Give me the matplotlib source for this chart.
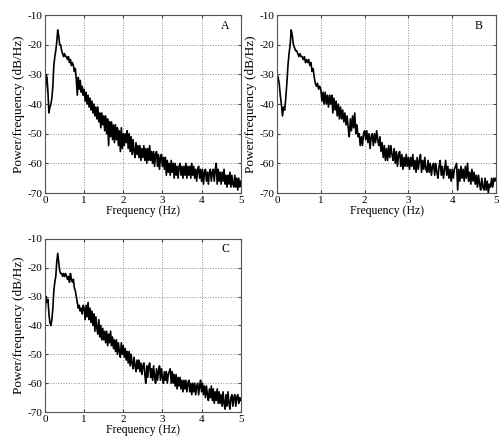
import numpy as np
import matplotlib
matplotlib.use("Agg")
import matplotlib.pyplot as plt

plt.rcParams['font.family'] = ['Liberation Serif', 'DejaVu Serif']
plt.rcParams['axes.unicode_minus'] = False

# frequency axis (Hz), 0.025 Hz spacing
freq = np.linspace(0, 5, 201)

# power spectral density estimates (dB/Hz)
psd_a = [
    -38, -30, -31, -36, -43, -41, -40, -38, -34, -27,
    -24, -22, -19, -15, -17, -20, -20, -22, -23, -24,
    -23, -24, -24, -25, -24, -26, -25, -27, -26, -27,
    -29, -28, -32, -37, -31, -35, -32, -36, -34, -37,
    -35, -39, -36, -40, -37, -41, -38, -42, -39, -43,
    -40, -44, -41, -45, -41, -46, -43, -48, -43, -47,
    -44, -49, -44, -50, -45, -54, -46, -51, -46, -52,
    -47, -53, -47, -52, -48, -54, -49, -56, -48, -55,
    -50, -54, -50, -53, -49, -55, -50, -56, -51, -57,
    -52, -56, -58, -53, -57, -54, -58, -54, -59, -55,
    -58, -54, -59, -55, -60, -55, -59, -54, -59, -56,
    -60, -56, -61, -57, -56, -61, -57, -62, -58, -57,
    -61, -58, -62, -58, -64, -59, -63, -60, -64, -59,
    -63, -60, -65, -60, -64, -61, -65, -61, -60, -64,
    -61, -65, -61, -64, -60, -65, -61, -64, -61, -65,
    -60, -64, -61, -65, -62, -66, -62, -61, -65, -62,
    -66, -62, -67, -63, -62, -66, -63, -67, -63, -62,
    -66, -63, -62, -66, -62, -60, -67, -62, -66, -63,
    -67, -63, -66, -62, -67, -64, -68, -64, -67, -63,
    -68, -64, -67, -68, -64, -68, -65, -69, -65, -68,
    -66,
]

psd_b = [
    -30, -31, -33, -37, -40, -44, -41, -42, -38, -33,
    -27, -23, -20, -15, -17, -20, -21, -22, -22, -23,
    -24, -23, -24, -24, -25, -24, -26, -25, -26, -25,
    -27, -26, -29, -28, -31, -33, -34, -33, -35, -34,
    -35, -39, -36, -40, -36, -40, -37, -41, -37, -40,
    -37, -43, -38, -42, -39, -44, -40, -45, -41, -45,
    -42, -46, -43, -47, -44, -48, -51, -45, -49, -44,
    -48, -43, -50, -47, -51, -50, -54, -51, -54, -50,
    -49, -52, -49, -53, -50, -55, -51, -50, -54, -50,
    -53, -49, -52, -54, -51, -56, -53, -58, -54, -59,
    -55, -59, -54, -58, -54, -57, -59, -55, -60, -56,
    -61, -57, -56, -61, -57, -62, -58, -61, -57, -61,
    -58, -62, -58, -61, -57, -62, -59, -63, -58, -62,
    -59, -57, -63, -59, -62, -58, -62, -63, -59, -63,
    -60, -64, -61, -60, -64, -60, -63, -65, -61, -59,
    -64, -61, -65, -62, -59, -64, -61, -65, -62, -66,
    -62, -65, -62, -61, -60, -69, -62, -66, -61, -65,
    -62, -66, -61, -65, -60, -66, -63, -67, -62, -66,
    -63, -67, -64, -68, -64, -67, -69, -65, -68, -69,
    -65, -69, -66, -70, -67, -68, -65, -68, -65, -66,
    -65,
]

psd_c = [
    -37, -30, -32, -31, -36, -39, -40, -38, -34, -28,
    -25, -23, -18, -15, -18, -21, -22, -22, -23, -22,
    -23, -22, -23, -24, -23, -25, -22, -24, -25, -24,
    -27, -28, -30, -32, -34, -33, -35, -34, -36, -33,
    -34, -38, -33, -37, -32, -38, -34, -39, -35, -40,
    -36, -42, -37, -41, -43, -38, -44, -40, -45, -41,
    -45, -42, -46, -42, -47, -43, -46, -42, -47, -44,
    -48, -45, -49, -45, -50, -46, -49, -51, -46, -50,
    -47, -51, -48, -52, -49, -53, -49, -54, -50, -53,
    -55, -51, -54, -56, -52, -55, -52, -56, -53, -57,
    -54, -53, -57, -60, -54, -58, -54, -53, -58, -55,
    -59, -54, -58, -60, -55, -59, -56, -54, -59, -55,
    -58, -60, -56, -59, -56, -60, -57, -56, -55, -60,
    -56, -60, -57, -61, -57, -62, -58, -61, -58, -62,
    -59, -63, -59, -62, -59, -63, -60, -59, -63, -60,
    -64, -60, -63, -60, -64, -61, -60, -64, -61, -59,
    -63, -60, -64, -61, -65, -61, -64, -66, -62, -65,
    -61, -66, -62, -67, -63, -66, -62, -67, -63, -67,
    -64, -68, -63, -67, -69, -64, -68, -63, -67, -69,
    -65, -64, -68, -65, -64, -68, -65, -64, -67, -65,
    -66,
]

panels = [
    ("A", psd_a, [0.0895, 0.5573, 0.389, 0.408]),
    ("B", psd_b, [0.5507, 0.5573, 0.4354, 0.408]),
    ("C", psd_c, [0.0895, 0.0550, 0.389, 0.397]),
]

fig = plt.figure(figsize=(5.03, 4.36), dpi=100)

for letter, psd, rect in panels:
    ax = fig.add_axes(rect)
    ax.plot(freq, psd, color="black", lw=1.2)
    ax.set_xlim(0, 5)
    ax.set_ylim(-70, -10)
    ax.set_xticks(range(0, 6))
    ax.set_yticks(range(-70, 0, 10))
    ax.grid(True, linestyle=":", color="#888888", lw=0.7)
    ax.tick_params(direction="in", length=2.5, labelsize=8, pad=2,
                   top=True, right=True, color="#444444")
    for s in ax.spines.values():
        s.set_color("#555555")
        s.set_linewidth(0.8)
    ax.set_xlabel("Frequency (Hz)", fontsize=8.5, labelpad=0)
    ax.set_ylabel("Power/frequency (dB/Hz)", fontsize=9.5, labelpad=2)
    ax.text(0.92, 0.94, letter, transform=ax.transAxes, fontsize=8.5,
            ha="center", va="center")

fig.savefig("out.png", dpi=100)
